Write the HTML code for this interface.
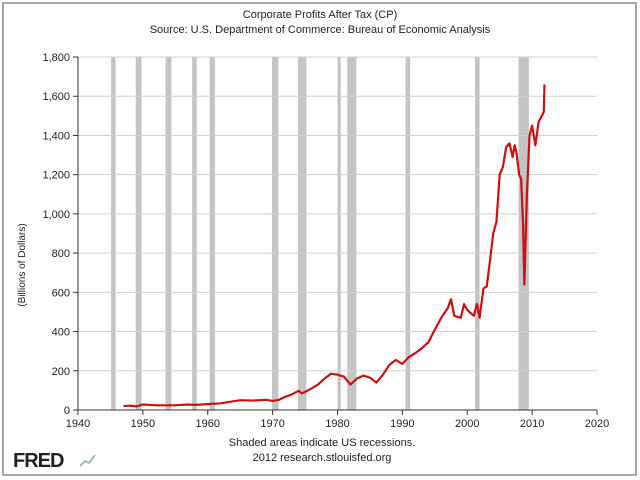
<!DOCTYPE html>
<html><head><meta charset="utf-8"><style>
body{margin:0;background:#fff;}
#wrap{position:relative;width:640px;height:480px;overflow:hidden;}
svg text{font-family:"Liberation Sans",Verdana,sans-serif;}
</style></head><body>
<div id="wrap">
<svg id="chart" width="640" height="480">
<rect x="3" y="3" width="633" height="472" fill="#fff" stroke="#888" stroke-width="1.5"/>
<text x="320" y="18" text-anchor="middle" font-size="11" fill="#222">Corporate Profits After Tax (CP)</text>
<text x="320" y="33" text-anchor="middle" font-size="11" fill="#222">Source: U.S. Department of Commerce: Bureau of Economic Analysis</text>
<g id="rec"></g><g id="grid"></g><g id="axes"></g><g id="series"></g>
<text transform="translate(25,265) rotate(-90)" text-anchor="middle" font-size="10" fill="#222">(Billions of Dollars)</text>
<text x="322" y="446" text-anchor="middle" font-size="11" fill="#222">Shaded areas indicate US recessions.</text>
<text x="322" y="461" text-anchor="middle" font-size="11" fill="#222">2012 research.stlouisfed.org</text>
<text x="13" y="467" font-size="20" font-weight="bold" fill="#222" letter-spacing="-1">FRED</text>
<polyline points="80,466 85,461 89,463 95,455" fill="none" stroke="#8a9" stroke-width="1.5"/>
</svg></div>
<script>
const yTicks=[0,200,400,600,800,1000,1200,1400,1600,1800];
const yTickLabels=["0","200","400","600","800","1,000","1,200","1,400","1,600","1,800"];
const xTicks=[1940,1950,1960,1970,1980,1990,2000,2010,2020];
const recStart=[1945.1,1948.9,1953.5,1957.6,1960.3,1969.9,1973.9,1980.0,1981.5,1990.5,2001.2,2007.9];
const recEnd=[1945.8,1949.8,1954.4,1958.3,1961.1,1970.9,1975.2,1980.5,1982.9,1991.2,2001.9,2009.5];
const years=[1947,1948,1949,1950,1952,1955,1957,1958,1960,1962,1965,1967,1969,1970,1971,1972,1973,1974,1974.5,1975,1976,1977,1978,1979,1980,1981,1982,1983,1984,1985,1986,1987,1988,1989,1990,1991,1992,1993,1994,1995,1996,1997,1997.5,1998,1999,1999.5,2000,2001,2001.5,2001.9,2002.5,2003,2003.5,2004,2004.5,2005,2005.5,2006,2006.5,2007,2007.3,2007.6,2008,2008.3,2008.6,2008.8,2009.2,2009.6,2010,2010.5,2011,2011.5,2011.8,2011.9];
const profits=[20,22,18,28,24,24,28,26,30,34,50,48,52,46,52,68,80,98,85,92,110,130,160,185,180,170,130,160,175,165,140,180,230,255,235,270,290,315,345,410,470,520,565,480,470,540,510,480,540,470,620,630,760,900,960,1200,1240,1340,1360,1290,1350,1310,1200,1180,950,640,1100,1400,1450,1350,1470,1500,1520,1660];
const X0=78,X1=597,Y0=410,Y1=57;
const xs=v=>X0+(v-1940)/80*(X1-X0);
const ys=v=>Y0-v/1800*(Y0-Y1);
const NS="http://www.w3.org/2000/svg";
function mk(t,p,a){const e=document.createElementNS(NS,t);for(const k in a)e.setAttribute(k,a[k]);p.appendChild(e);return e;}
const rec=document.getElementById('rec'),grid=document.getElementById('grid'),axes=document.getElementById('axes'),series=document.getElementById('series');
recStart.forEach((s,i)=>{const r=mk('rect',rec,{x:xs(s),y:Y1,width:xs(recEnd[i])-xs(s),height:Y0-Y1,fill:'#c4c4c4'});

});
yTicks.forEach((v,i)=>{const y=ys(v);
if(v>0){const l=mk('line',grid,{x1:X0,x2:X1,y1:y,y2:y,stroke:'#d0d0d0','stroke-width':1});

}
const tk=mk('line',axes,{x1:X0-5,x2:X0,y1:y,y2:y,stroke:'#333'});


const t=mk('text',axes,{x:X0-8,y:y+4,'text-anchor':'end','font-size':11,fill:'#222'});t.textContent=yTickLabels[i];

});
xTicks.forEach(v=>{const x=xs(v);
const tk=mk('line',axes,{x1:x,x2:x,y1:Y0,y2:Y0+5,stroke:'#333'});


const t=mk('text',axes,{x:x,y:Y0+17,'text-anchor':'middle','font-size':11,fill:'#222'});t.textContent=v;

});
const ax=mk('path',axes,{d:`M${X0},${Y1}V${Y0}H${X1}`,fill:'none',stroke:'#333','stroke-width':1});


const ln=mk('polyline',series,{points:years.map((y,i)=>xs(y)+','+ys(profits[i])).join(' '),fill:'none',stroke:'#cc1010','stroke-width':2.2,'stroke-linejoin':'round'});


</script>
</body></html>
